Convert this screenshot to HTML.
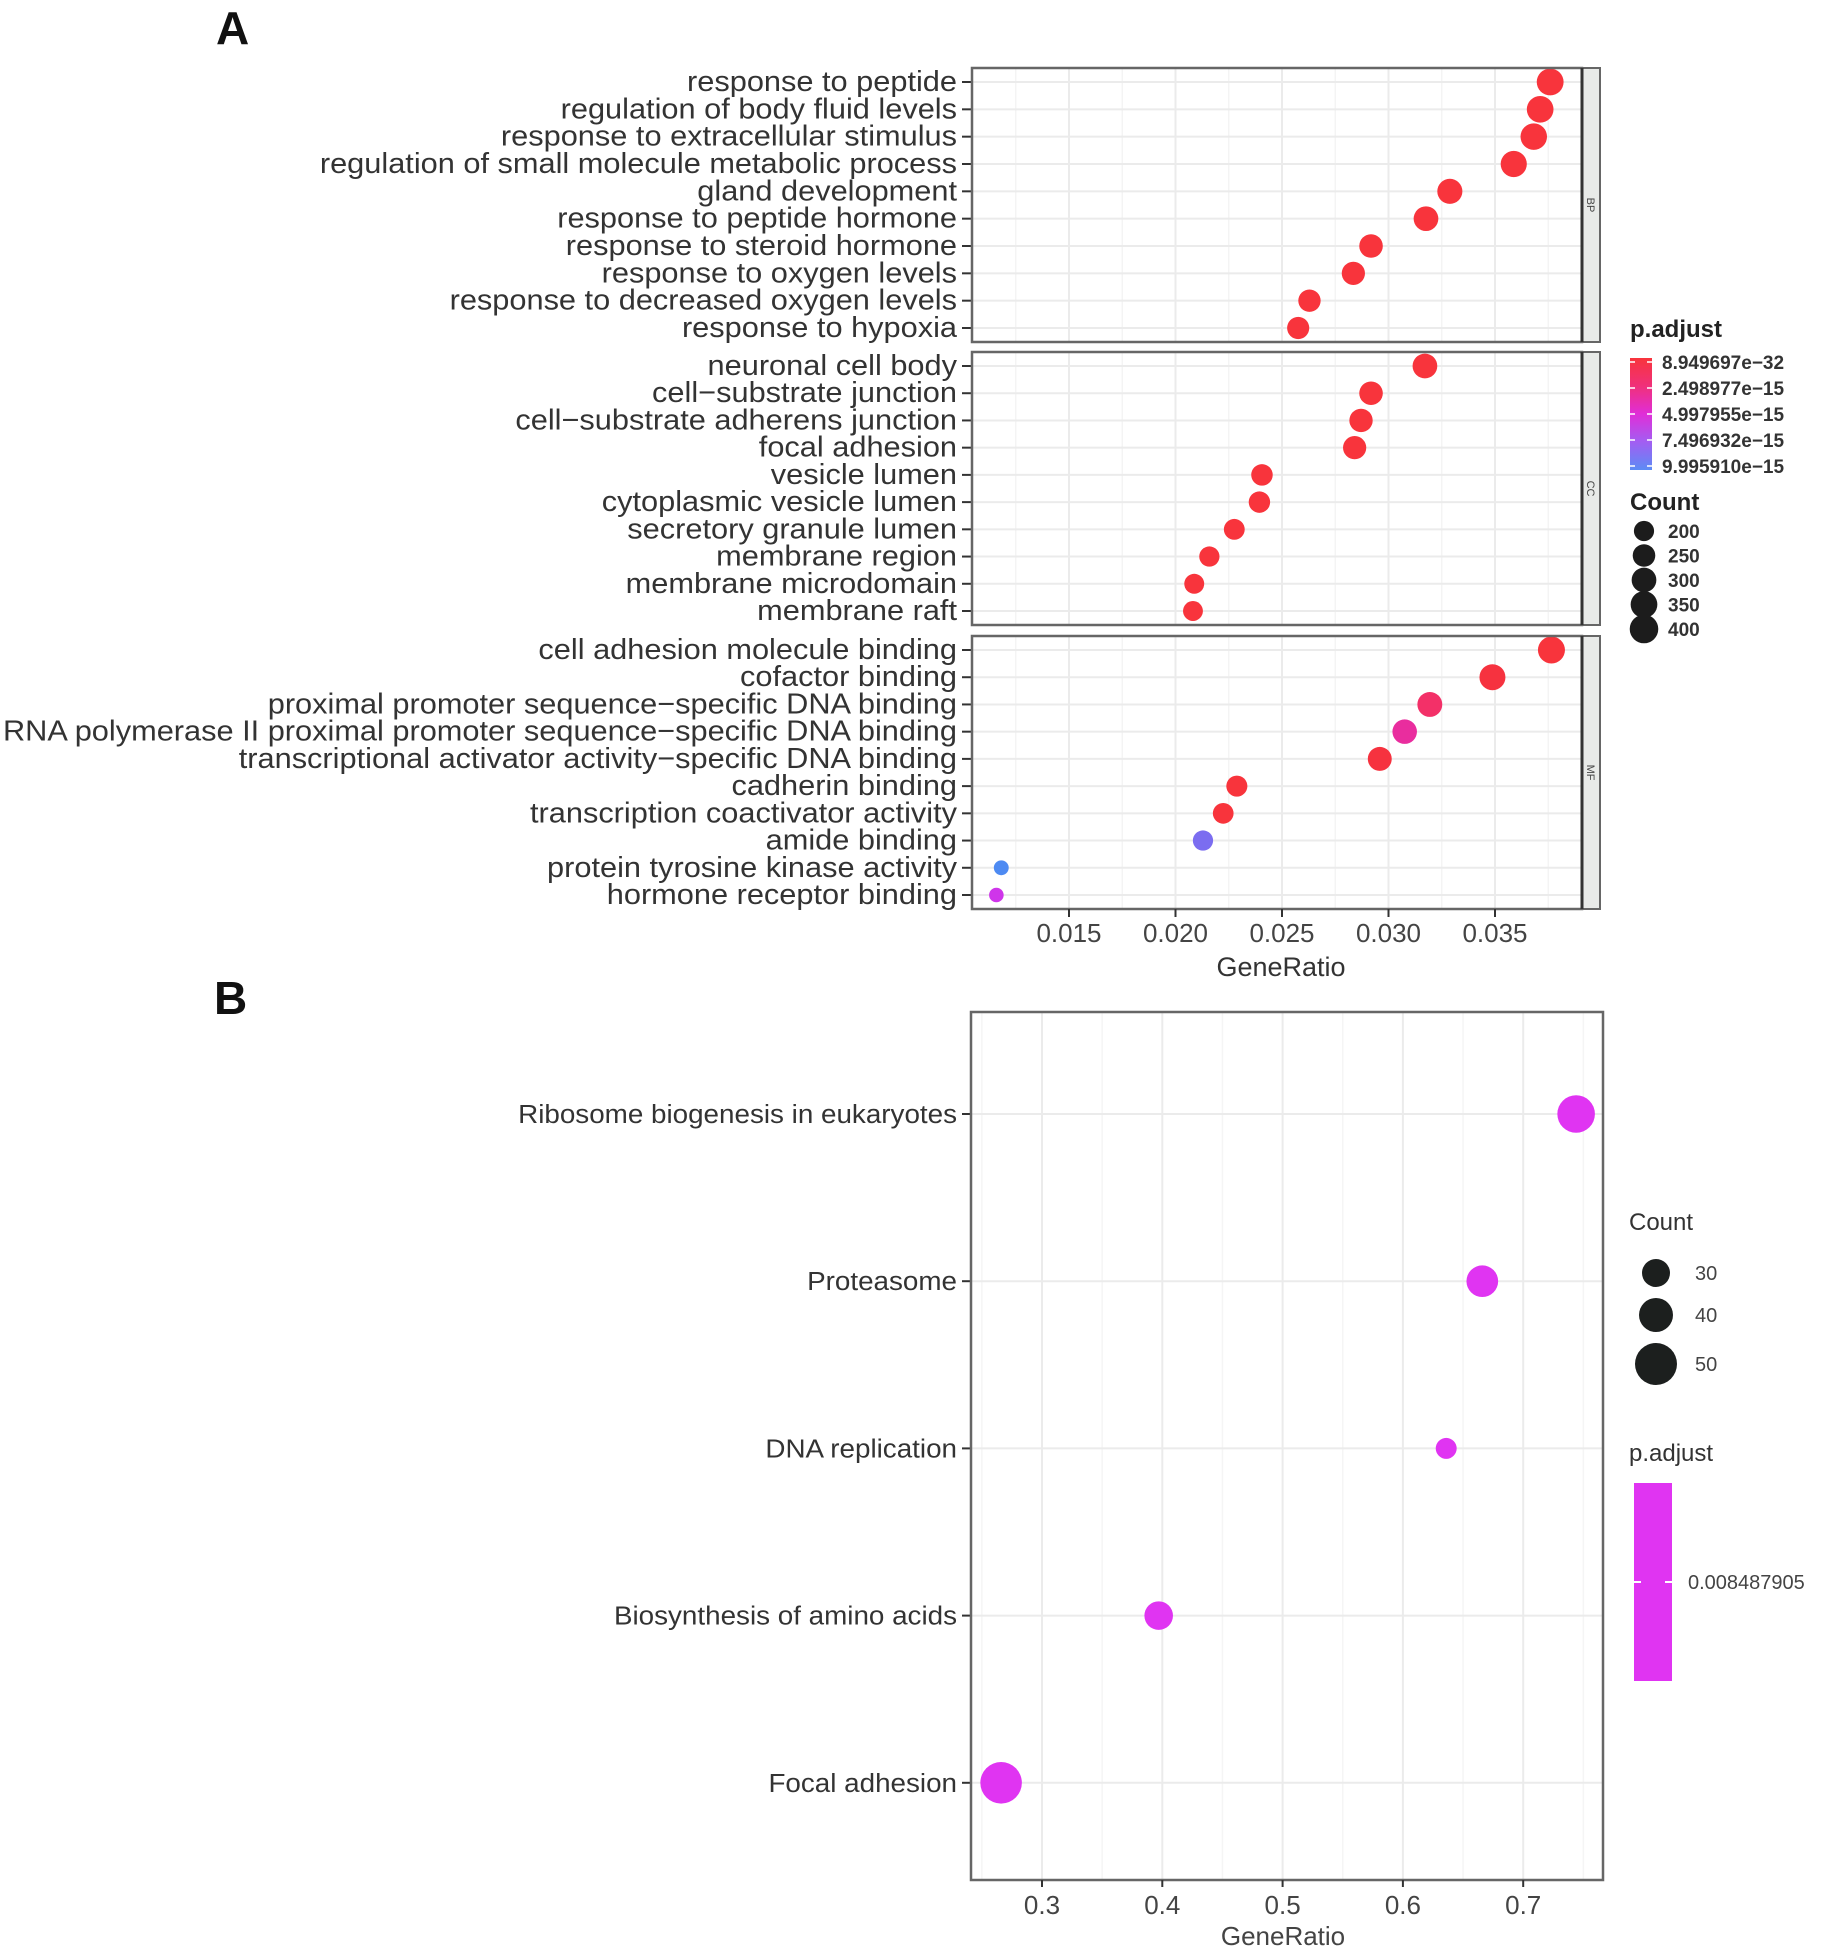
<!DOCTYPE html>
<html><head><meta charset="utf-8"><style>
html,body{margin:0;padding:0;background:#fff;}
svg{display:block;font-family:"Liberation Sans",Arial,sans-serif;}
</style></head><body>
<svg id="chart" width="1822" height="1960" viewBox="0 0 1822 1960" xmlns="http://www.w3.org/2000/svg">
<text x="216" y="44" font-size="46" font-weight="bold" fill="#111">A</text>
<text x="214" y="1014" font-size="46" font-weight="bold" fill="#111">B</text>
<g id="gA"></g>
<g id="gB"></g>
</svg>
<script>
// ---- Panel A data ----
const bpTerms = ["response to peptide","regulation of body fluid levels","response to extracellular stimulus","regulation of small molecule metabolic process","gland development","response to peptide hormone","response to steroid hormone","response to oxygen levels","response to decreased oxygen levels","response to hypoxia"];
const bpRatio = [0.03759,0.03712,0.03682,0.03588,0.03288,0.03176,0.02918,0.02835,0.02629,0.02576];
const bpCount = [390,385,380,370,340,330,300,292,270,265];
const bpColor = ["#f8343c","#f8343c","#f8343c","#f8343c","#f8343c","#f8343c","#f8343c","#f8343c","#f8343c","#f8343c"];
const ccTerms = ["neuronal cell body","cell\u2212substrate junction","cell\u2212substrate adherens junction","focal adhesion","vesicle lumen","cytoplasmic vesicle lumen","secretory granule lumen","membrane region","membrane microdomain","membrane raft"];
const ccRatio = [0.03171,0.02918,0.02871,0.02841,0.02406,0.02394,0.02276,0.02159,0.02088,0.02082];
const ccCount = [330,300,295,292,250,248,235,222,215,214];
const ccColor = ["#f8343c","#f8343c","#f8343c","#f8343c","#f8343c","#f8343c","#f8343c","#f8343c","#f8343c","#f8343c"];
const mfTerms = ["cell adhesion molecule binding","cofactor binding","proximal promoter sequence\u2212specific DNA binding","RNA polymerase II proximal promoter sequence\u2212specific DNA binding","transcriptional activator activity\u2212specific DNA binding","cadherin binding","transcription coactivator activity","amide binding","protein tyrosine kinase activity","hormone receptor binding"];
const mfRatio = [0.03765,0.03488,0.03194,0.03076,0.02959,0.02288,0.02224,0.02129,0.01182,0.01159];
const mfCount = [395,365,335,325,310,240,232,222,120,115];
const mfColor = ["#f8343c","#f6323f","#f33068","#e92d9e","#f6323f","#f8343c","#f8343c","#7b6df0","#4d8af2","#cf35ea"];
const aTicks = [0.015,0.020,0.025,0.030,0.035];
const aTickLabels = ["0.015","0.020","0.025","0.030","0.035"];
const aLegendCol = ["8.949697e\u221232","2.498977e\u221215","4.997955e\u221215","7.496932e\u221215","9.995910e\u221215"];
const aLegendCount = [200,250,300,350,400];
// ---- Panel B data ----
const bTerms = ["Ribosome biogenesis in eukaryotes","Proteasome","DNA replication","Biosynthesis of amino acids","Focal adhesion"];
const bRatio = [0.744,0.666,0.636,0.397,0.266];
const bCount = [45,32,14,26,55];
const bTicks = [0.3,0.4,0.5,0.6,0.7];
const bTickLabels = ["0.3","0.4","0.5","0.6","0.7"];
const bLegendCount = [30,40,50];
const bLegendP = ["0.008487905"];

const NS="http://www.w3.org/2000/svg";
function mk(parent,tag,attrs,text){const e=document.createElementNS(NS,tag);for(const k in attrs)e.setAttribute(k,attrs[k]);if(text!==undefined)e.textContent=text;parent.appendChild(e);return e;}

// Panel A
const gA=document.getElementById('gA');
const axL=972, axR=1582, stripR=1600;
const xA=v=>1069+(v-0.015)/0.005*106.5;
const rA=c=>0.68*Math.sqrt(c);
const panels=[{t:bpTerms,r:bpRatio,c:bpCount,col:bpColor,top:68,bot:342,lab:"BP"},
{t:ccTerms,r:ccRatio,c:ccCount,col:ccColor,top:352,bot:625,lab:"CC"},
{t:mfTerms,r:mfRatio,c:mfCount,col:mfColor,top:636,bot:909,lab:"MF"}];
panels.forEach((p,pi)=>{
  const g=mk(gA,'g',{});
  
  
  mk(g,'rect',{x:axL,y:p.top,width:axR-axL,height:p.bot-p.top,fill:'#fff'});
  for(let i=0;i<aTicks.length+1;i++){const v=aTicks[0]-0.0025+i*0.005;const x=xA(v);if(x>axL&&x<axR)mk(g,'line',{x1:x,x2:x,y1:p.top,y2:p.bot,stroke:'#f4f4f4','stroke-width':1.5});}
  aTicks.forEach(v=>mk(g,'line',{x1:xA(v),x2:xA(v),y1:p.top,y2:p.bot,stroke:'#ebebeb','stroke-width':2}));
  const n=p.t.length, step=(p.bot-p.top-28)/(n-1);
  const yr=i=>p.top+14+i*step;
  p.t.forEach((t,i)=>{
    mk(g,'line',{x1:axL,x2:axR,y1:yr(i),y2:yr(i),stroke:'#ebebeb','stroke-width':2});
    const lab=mk(g,'text',{x:0,y:0,transform:`translate(957,${yr(i)+9}) scale(1.06,1)`,'text-anchor':'end','font-size':29,fill:'#333'},t);
    
    
    mk(g,'line',{x1:962,x2:axL,y1:yr(i),y2:yr(i),stroke:'#333','stroke-width':2});
  });
  p.t.forEach((t,i)=>{
    const c=mk(g,'circle',{cx:xA(p.r[i]),cy:yr(i),r:rA(p.c[i]),fill:p.col[i]});
    
    
  });
  mk(g,'rect',{x:axL,y:p.top,width:axR-axL,height:p.bot-p.top,fill:'none',stroke:'#666','stroke-width':2.5});
  const s=mk(g,'rect',{x:axR,y:p.top,width:stripR-axR,height:p.bot-p.top,fill:'#e8eae8',stroke:'#666','stroke-width':2});
  
  
  mk(g,'line',{x1:axR,x2:axR,y1:p.top,y2:p.bot,stroke:'#333','stroke-width':3});
  const cy=(p.top+p.bot)/2;
  mk(g,'text',{x:0,y:0,transform:`translate(${axR+5},${cy}) rotate(90)`,'text-anchor':'middle','font-size':11,fill:'#444'},p.lab);
});
aTicks.forEach((v,i)=>{
  mk(gA,'line',{x1:xA(v),x2:xA(v),y1:909,y2:917,stroke:'#333','stroke-width':2});
  const t=mk(gA,'text',{x:xA(v),y:942,'text-anchor':'middle','font-size':26,fill:'#444'},aTickLabels[i]);
  
  
});
{const t=mk(gA,'text',{x:1281,y:976,'text-anchor':'middle','font-size':27,fill:'#333'},'GeneRatio');

}
// Legend A
{const lg=mk(gA,'g',{});


mk(lg,'text',{x:1630,y:337,'font-size':24,'font-weight':'bold',fill:'#222'},'p.adjust');
const defs=mk(lg,'defs',{});
const gr=mk(defs,'linearGradient',{id:'pg',x1:0,y1:0,x2:0,y2:1});
[["0","#f8343c"],["0.25","#f0307a"],["0.5","#e02ed8"],["0.75","#a25ef2"],["1","#5c8cf5"]].forEach(s=>mk(gr,'stop',{offset:s[0],'stop-color':s[1]}));
mk(lg,'rect',{x:1630,y:358,width:22,height:112,fill:'url(#pg)'});
aLegendCol.forEach((l,i)=>{const y=362+i*26;
 mk(lg,'line',{x1:1630,x2:1635,y1:y,y2:y,stroke:'#fff','stroke-width':1.5});
 mk(lg,'line',{x1:1647,x2:1652,y1:y,y2:y,stroke:'#fff','stroke-width':1.5});
 mk(lg,'text',{x:1662,y:y+7,'font-size':19,'font-weight':'bold',fill:'#333'},l);});
mk(lg,'text',{x:1630,y:510,'font-size':24,'font-weight':'bold',fill:'#222'},'Count');
aLegendCount.forEach((c,i)=>{const y=531+i*24.5;
 mk(lg,'circle',{cx:1644,cy:y,r:rA(c)*1.05,fill:'#1c1c1c'});
 mk(lg,'text',{x:1668,y:y+7,'font-size':19,'font-weight':'bold',fill:'#333'},String(c));});
}

// Panel B
const gB=document.getElementById('gB');
const bL=971,bR=1603,bT=1012,bB=1880;
const xB=v=>1042+(v-0.3)/0.1*120.3;
const yB=i=>1114+i*167.2;
const rB=c=>2.8*Math.sqrt(c);
mk(gB,'rect',{x:bL,y:bT,width:bR-bL,height:bB-bT,fill:'#fff'});
for(let i=-1;i<bTicks.length;i++){const x=xB(bTicks[0]+0.05+i*0.1);if(x>bL&&x<bR)mk(gB,'line',{x1:x,x2:x,y1:bT,y2:bB,stroke:'#f5f5f5','stroke-width':1.5});}
bTicks.forEach(v=>mk(gB,'line',{x1:xB(v),x2:xB(v),y1:bT,y2:bB,stroke:'#ebebeb','stroke-width':2}));
bTerms.forEach((t,i)=>{
  mk(gB,'line',{x1:bL,x2:bR,y1:yB(i),y2:yB(i),stroke:'#ebebeb','stroke-width':2});
  const l=mk(gB,'text',{x:0,y:0,transform:`translate(957,${yB(i)+9}) scale(1.07,1)`,'text-anchor':'end','font-size':26,fill:'#333'},t);
  
  
  mk(gB,'line',{x1:962,x2:bL,y1:yB(i),y2:yB(i),stroke:'#333','stroke-width':2});
});
bTerms.forEach((t,i)=>{
  const c=mk(gB,'circle',{cx:xB(bRatio[i]),cy:yB(i),r:rB(bCount[i]),fill:'#e034f2'});
  
  
});
mk(gB,'rect',{x:bL,y:bT,width:bR-bL,height:bB-bT,fill:'none',stroke:'#666','stroke-width':2.5});
bTicks.forEach((v,i)=>{
  mk(gB,'line',{x1:xB(v),x2:xB(v),y1:bB,y2:bB+7,stroke:'#333','stroke-width':2});
  const t=mk(gB,'text',{x:xB(v),y:bB+34,'text-anchor':'middle','font-size':26,fill:'#444'},bTickLabels[i]);
  
  
});
{const t=mk(gB,'text',{x:1283,y:1945,'text-anchor':'middle','font-size':26,fill:'#444'},'GeneRatio');

}
{const lg=mk(gB,'g',{});


mk(lg,'text',{x:1629,y:1230,'font-size':24,fill:'#333'},'Count');
bLegendCount.forEach((c,i)=>{const y=[1273,1315,1364][i];
 mk(lg,'circle',{cx:1656,cy:y,r:[14,17,21][i],fill:'#1c1f1e'});
 mk(lg,'text',{x:1695,y:y+7,'font-size':20,fill:'#444'},String(c));});
mk(lg,'text',{x:1629,y:1461,'font-size':24,fill:'#333'},'p.adjust');
mk(lg,'rect',{x:1634,y:1483,width:38,height:198,fill:'#e034f2'});
mk(lg,'line',{x1:1634,x2:1641,y1:1582,y2:1582,stroke:'#fff','stroke-width':2});
mk(lg,'line',{x1:1665,x2:1672,y1:1582,y2:1582,stroke:'#fff','stroke-width':2});
mk(lg,'text',{x:1688,y:1589,'font-size':20,fill:'#444'},bLegendP[0]);
}
</script>
</body></html>
